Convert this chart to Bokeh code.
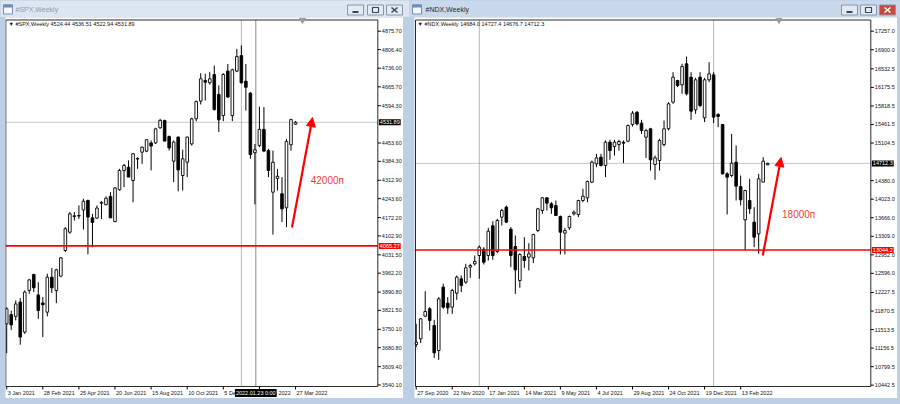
import math
from bokeh.plotting import figure
from bokeh.models import (Range1d, Label, Arrow, NormalHead, ColumnDataSource)
from bokeh.layouts import row, column
from bokeh.core.properties import value
from bokeh.embed import file_html
from bokeh.resources import INLINE

FONT = "Liberation Sans"

# ---------------- data: #SPX weekly (index 0 = week of 3 Jan 2021) ----------------
spx_open = [3771, 3806, 3799, 3853, 3740, 3897, 3957, 3880, 3850, 3815, 3947, 3897, 3951, 4048, 4117, 4176,
            4178, 4201, 4237, 4171, 4170, 4226, 4221, 4252, 4157, 4277, 4350, 4362, 4312, 4393, 4419, 4423,
            4454, 4454, 4511, 4539, 4478, 4385, 4476, 4331, 4381, 4450, 4545, 4612, 4690, 4681, 4712, 4637,
            4557, 4725, 4557, 4725, 4784, 4687, 4642, 4417, 4444, 4505, 4425, 4268, 4320, 4262, 4209, 4447,
            4524.44]
spx_high = [3834, 3821, 3859, 3868, 3897, 3941, 3960, 3928, 3872, 3960, 3982, 3979, 4023, 4136, 4193, 4193,
            4218, 4243, 4239, 4186, 4218, 4234, 4252, 4268, 4287, 4356, 4375, 4388, 4415, 4400, 4440, 4468,
            4463, 4511, 4545, 4541, 4482, 4463, 4478, 4428, 4478, 4549, 4614, 4717, 4715, 4721, 4746, 4671,
            4717, 4752, 4734, 4809, 4822, 4752, 4646, 4450, 4591, 4589, 4432, 4425, 4356, 4325, 4469, 4545,
            4536.51]
spx_low = [3660, 3748, 3784, 3692, 3733, 3884, 3891, 3790, 3721, 3799, 3887, 3849, 3947, 4042, 4111, 4161,
           4167, 4127, 4033, 4060, 4167, 4167, 4218, 4171, 4155, 4274, 4287, 4325, 4230, 4356, 4375, 4419,
           4350, 4450, 4507, 4459, 4425, 4306, 4271, 4274, 4325, 4444, 4536, 4599, 4614, 4674, 4576, 4495,
           4536, 4624, 4536, 4721, 4677, 4576, 4394, 4222, 4438, 4419, 4325, 4108, 4274, 4155, 4136, 4425,
           4522.94]
spx_close = [3828, 3767, 3846, 3721, 3891, 3937, 3907, 3821, 3843, 3947, 3907, 3975, 4020, 4130, 4186, 4179,
             4180, 4234, 4174, 4154, 4208, 4230, 4245, 4171, 4284, 4350, 4369, 4325, 4413, 4395, 4438, 4466,
             4442, 4507, 4539, 4461, 4435, 4457, 4352, 4394, 4476, 4545, 4610, 4696, 4683, 4696, 4580, 4541,
             4712, 4627, 4730, 4780, 4681, 4664, 4410, 4428, 4505, 4423, 4350, 4381, 4328, 4205, 4459, 4542,
             4531.89]
spx_date_ticks = [0, 8, 16, 24, 32, 40, 48, 56, 64]
spx_date_labels = ["3 Jan 2021", "28 Feb 2021", "25 Apr 2021", "20 Jun 2021", "15 Aug 2021",
                   "10 Oct 2021", "5 Dec 2021", "30 Jan 2022", "27 Mar 2022"]
spx_price_ticks = [4875.70, 4806.40, 4736.00, 4665.70, 4594.30, 4453.60, 4384.30, 4312.90, 4243.60,
                   4172.20, 4102.90, 4031.50, 3962.20, 3890.80, 3821.50, 3750.10, 3680.80, 3609.40, 3540.10]
spx_level = 4065.27
spx_last = 4531.89
spx_header = "\u25bc #SPX,Weekly  4524.44 4536.51 4522.94 4531.89"

# ---------------- data: #NDX weekly (index 0 = week of 27 Sep 2020) ----------------
ndx_open = [11226, 11335, 11771, 11913, 11592, 11110, 12330, 12022, 11945, 12214, 12490, 12426, 12715, 12779,
            12939, 13061, 12939, 13510, 13016, 13677, 13870, 13446, 13112, 12458, 12920, 12907, 12894, 13420,
            13805, 14049, 13934, 13902, 13690, 13369, 13472, 13741, 13728, 13998, 14049, 14351, 14704, 14832,
            14672, 15121, 15037, 15076, 15121, 15140, 15461, 15698, 15487, 15217, 15378, 14691, 14768, 15076,
            15378, 15891, 16308, 16225, 16629, 16372, 15743, 16372, 15589, 16321, 16417, 15653, 15461, 14511,
            14479, 14736, 14267, 13626, 13998, 13581, 13356, 14351, 14684.0]
ndx_high = [11624, 11733, 12253, 11945, 11701, 12137, 12394, 12137, 12298, 12554, 12554, 12779, 12779, 12939,
            13132, 13100, 13472, 13600, 13645, 13838, 13902, 13485, 13324, 12984, 13292, 13177, 13356, 13857,
            14062, 14062, 13966, 13998, 13709, 13472, 13709, 13805, 14011, 14223, 14383, 14768, 14896, 14896,
            15153, 15166, 15166, 15166, 15153, 15461, 15718, 15718, 15551, 15378, 15397, 14864, 15185, 15538,
            15891, 16468, 16321, 16629, 16770, 16468, 16359, 16468, 16359, 16661, 16468, 15679, 15474, 14543,
            15281, 15057, 14479, 14203, 14415, 13870, 14511, 14832, 14727.4]
ndx_low = [11175, 11252, 11752, 11495, 10969, 10931, 11913, 11816, 11816, 12086, 12233, 12394, 12509, 12747,
           12490, 12766, 12843, 12856, 12984, 13517, 13562, 12715, 12201, 12317, 12702, 12650, 12792, 13388,
           13741, 13805, 13741, 13709, 12958, 12958, 13433, 13709, 13677, 13966, 13966, 14332, 14640, 14652,
           14447, 14781, 14864, 14960, 14717, 15121, 15422, 15442, 15281, 14819, 14575, 14396, 14575, 15037,
           15345, 15859, 16180, 16051, 16019, 15551, 15666, 15795, 15506, 16276, 15487, 15410, 14498, 13728,
           14447, 13998, 13902, 13035, 13741, 13100, 12971, 14351, 14676.7]
ndx_close = [11271, 11720, 11861, 11688, 11066, 12105, 11945, 11932, 12265, 12522, 12362, 12702, 12747, 12824,
             13100, 12811, 13408, 12939, 13613, 13805, 13581, 12939, 12663, 12958, 12843, 12971, 13343, 13838,
             14049, 13947, 13857, 13709, 13388, 13420, 13690, 13773, 13998, 14081, 14364, 14736, 14819, 14672,
             15121, 14960, 15121, 15134, 15102, 15442, 15679, 15474, 15345, 15345, 14781, 14819, 15153, 15378,
             15859, 16372, 16212, 16577, 16051, 15718, 16321, 15827, 16321, 16436, 15602, 15615, 14511, 14447,
             14717, 14274, 14011, 14190, 13838, 13292, 14415, 14755, 14712.3]
ndx_date_ticks = [0, 8, 16, 24, 32, 40, 48, 56, 64, 72]
ndx_date_labels = ["27 Sep 2020", "22 Nov 2020", "17 Jan 2021", "14 Mar 2021", "9 May 2021",
                   "4 Jul 2021", "29 Aug 2021", "24 Oct 2021", "19 Dec 2021", "13 Feb 2022"]
ndx_price_ticks = [17257.0, 16900.0, 16532.5, 16175.5, 15818.5, 15461.5, 15104.5, 14380.0, 14023.0,
                   13666.0, 13309.0, 12952.0, 12596.0, 12227.5, 11870.5, 11513.5, 11156.5, 10799.5, 10442.5]
ndx_level = 13044.2
ndx_last = 14712.3
ndx_header = "\u25bc #NDX,Weekly  14684.0 14727.4 14676.7 14712.3"

BORDER = "#bccfe4"
SCALE_FONT = "5.5px"
CHART_H = 381


def candle_chart(o, h, l, c, date_ticks, date_labels, price_ticks, decimals, xr, yr, width, margin,
                 x_axis_pos, x_left, y_bottom, y_top, y_datelab, level, last, header, year_lines,
                 arrow_pts, note, note_pos, shift_marker, crosshair=None, crosshair_text=""):
    p = figure(width=width, height=CHART_H, x_range=Range1d(*xr), y_range=Range1d(*yr),
               x_axis_location=None, y_axis_location=None, output_backend="svg",
               toolbar_location=None, min_border=0, margin=margin)
    p.background_fill_color = "white"
    p.border_fill_color = "white"
    p.outline_line_color = None
    p.grid.visible = False

    idx = list(range(len(o)))
    src = ColumnDataSource(dict(
        x=idx, o=o, h=h, l=l, c=c,
        top=[max(a, b) for a, b in zip(o, c)],
        bot=[min(a, b) for a, b in zip(o, c)],
        fill=["white" if b >= a else "black" for a, b in zip(o, c)],
    ))

    # guide lines (under candles)
    p.segment(x0=[xr[0]], y0=[last], x1=[x_axis_pos], y1=[last], line_color="#c8c8c8", line_width=1)
    for yl in year_lines:
        p.segment(x0=[yl], y0=[y_bottom], x1=[yl], y1=[y_top], line_color="#707070", line_width=1,
                  line_dash="1 1")
    if crosshair is not None:
        p.segment(x0=[crosshair], y0=[y_bottom], x1=[crosshair], y1=[y_top],
                  line_color="#8a8a8a", line_width=1)

    # candles
    p.segment(x0="x", y0="l", x1="x", y1="h", source=src, line_color="black", line_width=1)
    p.vbar(x="x", width=0.58, top="top", bottom="bot", source=src, fill_color="fill",
           line_color="black", line_width=0.9)

    # support level
    p.segment(x0=[xr[0]], y0=[level], x1=[x_axis_pos], y1=[level], line_color="#ff0000", line_width=1.6)

    # chart frame (MT4 style): top, right scale line, bottom scale line, left
    p.segment(x0=[x_left, x_axis_pos, x_left, x_left], y0=[y_top, y_bottom, y_bottom, y_bottom],
              x1=[x_axis_pos, x_axis_pos, x_axis_pos, x_left], y1=[y_top, y_top, y_bottom, y_top],
              line_color="#2a2a2a", line_width=1)

    # chart shift marker
    p.scatter(x=[shift_marker], y=[y_top], marker="inverted_triangle", size=6,
              fill_color="#9a9a9a", line_color="#9a9a9a")

    # price scale (right)
    p.ray(x=[x_axis_pos] * len(price_ticks), y=price_ticks, length=3, length_units="screen",
          angle=0, line_color="black", line_width=1)
    p.text(x=[x_axis_pos] * len(price_ticks), y=price_ticks,
           text=[f"{v:.{decimals}f}" for v in price_ticks], x_offset=4,
           text_font=value(FONT), text_font_size=SCALE_FONT, text_color="#111111",
           text_baseline="middle", text_align="left")

    # time scale (bottom)
    p.ray(x=date_ticks, y=[y_bottom] * len(date_ticks), length=3, length_units="screen",
          angle=-math.pi / 2, line_color="black", line_width=1)
    p.text(x=date_ticks, y=[y_datelab] * len(date_ticks), text=date_labels, x_offset=1,
           text_font=value(FONT), text_font_size=SCALE_FONT, text_color="#111111",
           text_baseline="middle", text_align="left")

    # price boxes on the scale
    p.add_layout(Label(x=x_axis_pos, y=last, x_offset=1, text=f"{last:.{decimals}f}",
                       text_font=FONT, text_font_size=SCALE_FONT, text_color="white",
                       text_baseline="middle", background_fill_color="black", padding=1))
    p.add_layout(Label(x=x_axis_pos, y=level, x_offset=1, text=f"{level:.{decimals}f}",
                       text_font=FONT, text_font_size=SCALE_FONT, text_color="white",
                       text_baseline="middle", background_fill_color="#ff0000", padding=1))

    # header
    p.add_layout(Label(x=3, y=CHART_H - 6.5, x_units="screen", y_units="screen", text=header,
                       text_font=FONT, text_font_size=SCALE_FONT, text_color="#111111",
                       text_baseline="middle"))

    if crosshair is not None:
        p.add_layout(Label(x=crosshair, y=y_datelab, text=crosshair_text,
                           text_font=FONT, text_font_size=SCALE_FONT, text_color="white",
                           text_align="center", text_baseline="middle",
                           background_fill_color="black", padding=1))

    # annotation arrow + note
    (x0, y0), (x1, y1) = arrow_pts
    p.add_layout(Arrow(end=NormalHead(size=9, fill_color="#ff0000", line_color="#ff0000", line_width=1),
                       x_start=x0, y_start=y0, x_end=x1, y_end=y1,
                       line_color="#ff0000", line_width=2.2))
    p.add_layout(Label(x=note_pos[0], y=note_pos[1], text=note, text_font=FONT,
                       text_font_size="10px", text_color="#f03a3a", text_baseline="middle"))
    return p


def title_bar(width, text, active, icon_x, text_x, buttons_x):
    bg = "#c9d9eb" if active else "#dde6f0"
    t = figure(width=width, height=17, x_range=Range1d(0, width), y_range=Range1d(0, 17),
               x_axis_location=None, y_axis_location=None, toolbar_location=None,
               output_backend="svg", min_border=0)
    t.background_fill_color = bg
    t.border_fill_color = bg
    t.outline_line_color = None
    t.grid.visible = False
    t.quad(left=[icon_x], right=[icon_x + 9], bottom=[3.5], top=[12.5], fill_color="#f5f8fc",
           line_color="#6f8db5", line_width=1)
    t.quad(left=[icon_x], right=[icon_x + 9], bottom=[10.5], top=[12.5], fill_color="#6f8db5",
           line_color="#6f8db5")
    t.text(x=[text_x], y=[8], text=[text], text_font=value(FONT), text_font_size="7px",
           text_baseline="middle", text_color="#1d2a3a" if active else "#8e9bab")
    bl = buttons_x
    br = [b + 16 for b in bl]
    close_fill = "#c8493f" if active else "#e3eaf3"
    t.quad(left=bl, right=br, bottom=[2.5] * 3, top=[12.5] * 3,
           fill_color=["#e3eaf3", "#e3eaf3", close_fill], line_color="#8796a8", line_width=1)
    mk = "#3a4658"
    t.segment(x0=[bl[0] + 5], y0=[5.5], x1=[bl[0] + 11], y1=[5.5], line_color=mk, line_width=2)
    t.quad(left=[bl[1] + 5], right=[bl[1] + 11], bottom=[5], top=[10], fill_color=None,
           line_color=mk, line_width=1.2)
    xc = "white" if active else mk
    t.segment(x0=[bl[2] + 5, bl[2] + 5], y0=[5, 10], x1=[bl[2] + 11, bl[2] + 11], y1=[10, 5],
              line_color=xc, line_width=1.5)
    return t


spx = candle_chart(spx_open, spx_high, spx_low, spx_close, spx_date_ticks, spx_date_labels,
                   spx_price_ticks, 2, (-0.266, 87.93), (3489.15, 4927.4), 398, (0, 6, 6, 5),
                   82.24, -0.2, 3534.45, 4918.0, 3509.9, spx_level, spx_last, spx_header, [52],
                   ((63.22, 4134.7), (67.77, 4549.9)), "42000\u043f", (67.37, 4312.1), 65.55,
                   crosshair=55.2, crosshair_text="2022.01.23 0:00")
ndx = candle_chart(ndx_open, ndx_high, ndx_low, ndx_close, ndx_date_ticks, ndx_date_labels,
                   ndx_price_ticks, 1, (-0.377, 106.81), (10186.5, 17520.75), 483, (0, 3, 6, 5),
                   100.89, -0.155, 10417.5, 17472.6, 10292.4, ndx_level, ndx_last, ndx_header, [14, 66],
                   ((76.92, 12939.25), (80.97, 14825.75)), "18000\u043f", (81.18, 13728.5), 80.5)

left_title = title_bar(409, "#SPX,Weekly", False, 3, 15, [347, 367, 386])
right_title = title_bar(491, "#NDX,Weekly", True, 3, 16, [432, 451, 470])

layout = row(column(left_title, spx, spacing=0), column(right_title, ndx, spacing=0),
             spacing=0, styles={"background-color": BORDER})

open("out.html", "w").write(file_html(layout, INLINE))
